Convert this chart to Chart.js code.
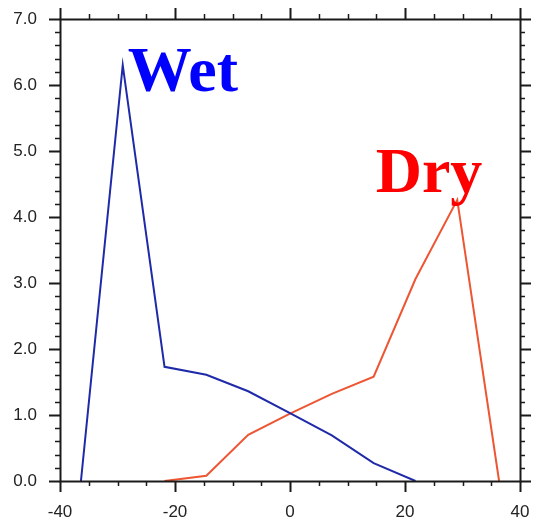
<!DOCTYPE html>
<html>
<head>
<meta charset="utf-8">
<script src="https://cdn.jsdelivr.net/npm/chart.js@4/dist/chart.umd.min.js"></script>
<style>
    html, body { margin: 0; padding: 0; background: #ffffff; }
    #wrap { width: 535px; height: 523px; }
</style>
</head>
<body>
<div id="wrap"><canvas id="pdf"></canvas></div>
<script>
// bin centres of the 11 histogram classes between -40 and 40
const binCenters = [-36.36, -29.09, -21.82, -14.55, -7.27, 0, 7.27, 14.55, 21.82, 29.09, 36.36];
const wetValues = [0, 6.30, 1.73, 1.61, 1.36, 1.03, 0.69, 0.27, 0, null, null];
const dryValues = [null, null, 0, 0.08, 0.70, 1.02, 1.32, 1.58, 3.06, 4.26, 0];

const xTicks = [-40, -20, 0, 20, 40];
const yTicks = [0, 1, 2, 3, 4, 5, 6, 7];

// big labels placed in data space (left edge, baseline)
const seriesLabels = [
    { text: "Wet", x: -28.2, y: 5.91, color: "#0000ff" },
    { text: "Dry", x: 14.9, y: 4.38, color: "#ff0000" }
];

const AXIS_COLOR = "#1a1a1a";

function toPoints(values) {
    return binCenters.map((x, i) => ({ x: x, y: values[i] }));
}

// NCL-style frame: outward major/minor ticks on all four sides
const framePlugin = {
    id: "frame",
    afterDatasetsDraw(chart) {
        const ctx = chart.ctx;
        const a = chart.chartArea;
        const xs = chart.scales.x, ys = chart.scales.y;
        const major = 11, minor = 5;
        ctx.save();
        ctx.strokeStyle = AXIS_COLOR;
        ctx.lineCap = "butt";

        for (let v = -40; v <= 40; v += 5) {
            const px = Math.round(xs.getPixelForValue(v)) + 0.5;
            const len = v % 20 === 0 ? major : minor;
            ctx.lineWidth = v % 20 === 0 ? 2 : 1.5;
            ctx.beginPath();
            ctx.moveTo(px, a.bottom); ctx.lineTo(px, a.bottom + len);
            ctx.moveTo(px, a.top); ctx.lineTo(px, a.top - len);
            ctx.stroke();
        }
        for (let i = 0; i <= 35; i++) {
            const v = i * 0.2;
            const py = Math.round(ys.getPixelForValue(v)) + 0.5;
            const isMajor = i % 5 === 0;
            const len = isMajor ? major : minor;
            ctx.lineWidth = isMajor ? 2 : 1.5;
            ctx.beginPath();
            ctx.moveTo(a.left, py); ctx.lineTo(a.left - len, py);
            ctx.moveTo(a.right, py); ctx.lineTo(a.right + len, py);
            ctx.stroke();
        }

        ctx.lineWidth = 2;
        ctx.strokeRect(Math.round(a.left) + 0.5, Math.round(a.top) + 0.5,
            Math.round(a.right - a.left), Math.round(a.bottom - a.top));

        ctx.font = "bold 64px 'Liberation Serif', 'Times New Roman', serif";
        ctx.textAlign = "left";
        ctx.textBaseline = "alphabetic";
        seriesLabels.forEach(l => {
            ctx.fillStyle = l.color;
            ctx.fillText(l.text, xs.getPixelForValue(l.x), ys.getPixelForValue(l.y));
        });
        ctx.restore();
    }
};

new Chart(document.getElementById("pdf"), {
    type: "line",
    data: {
        datasets: [{
            label: "Wet",
            data: toPoints(wetValues),
            borderColor: "#1f2aa8",
            borderWidth: 2,
            pointRadius: 0,
            tension: 0,
            spanGaps: false
        }, {
            label: "Dry",
            data: toPoints(dryValues),
            borderColor: "#ee5533",
            borderWidth: 2,
            pointRadius: 0,
            tension: 0,
            spanGaps: false
        }]
    },
    options: {
        responsive: true,
        maintainAspectRatio: false,
        animation: false,
        layout: { padding: { top: 19, right: 15, left: 0, bottom: 0 } },
        plugins: {
            legend: { display: false },
            tooltip: { enabled: false },
            title: { display: false }
        },
        scales: {
            x: {
                type: "linear",
                min: -40,
                max: 40,
                grid: { display: false, drawTicks: false },
                border: { display: false },
                afterBuildTicks: s => { s.ticks = xTicks.map(v => ({ value: v })); },
                afterFit: s => {
                    s.height = 42;
                    s.paddingLeft = 0;
                    s.paddingRight = 0;
                },
                ticks: {
                    padding: 21,
                    maxRotation: 0,
                    color: "#222222",
                    font: { family: "'Liberation Sans', Arial, sans-serif", size: 17 },
                    callback: v => String(v)
                }
            },
            y: {
                type: "linear",
                min: 0,
                max: 7,
                grid: { display: false, drawTicks: false },
                border: { display: false },
                afterBuildTicks: s => { s.ticks = yTicks.map(v => ({ value: v })); },
                afterFit: s => {
                    s.width = 60;
                    s.paddingTop = 0;
                    s.paddingBottom = 0;
                },
                ticks: {
                    padding: 23,
                    color: "#222222",
                    font: { family: "'Liberation Sans', Arial, sans-serif", size: 17 },
                    callback: v => Number(v).toFixed(1)
                }
            }
        }
    },
    plugins: [framePlugin]
});
</script>
</body>
</html>
